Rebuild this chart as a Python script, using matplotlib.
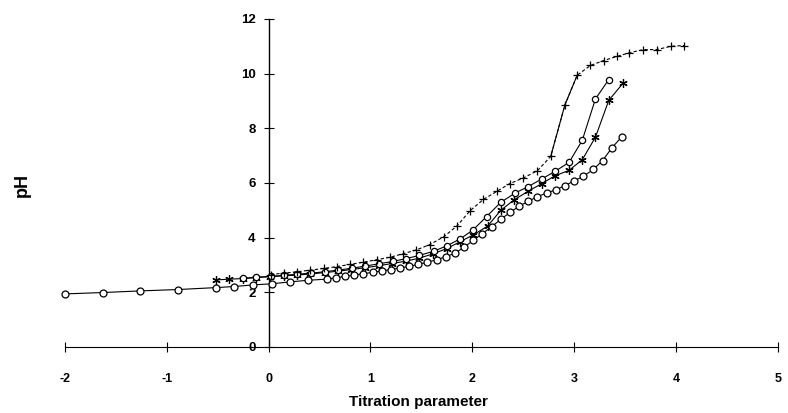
import matplotlib.pyplot as plt

plt.rcParams['font.family'] = ['Liberation Sans', 'DejaVu Sans']
plt.rcParams['axes.unicode_minus'] = False

# open circles, solid line
circ_x = [-2.0, -1.63, -1.26, -0.89, -0.52, -0.34, -0.15, 0.03, 0.21, 0.39, 0.57,
          0.66, 0.75, 0.84, 0.93, 1.02, 1.11, 1.20, 1.29, 1.38, 1.47, 1.56, 1.65,
          1.74, 1.83, 1.92, 2.01, 2.10, 2.19, 2.28, 2.37, 2.46, 2.55, 2.64, 2.73,
          2.82, 2.91, 3.00, 3.09, 3.19, 3.28, 3.37, 3.47]
circ_y = [1.94, 1.99, 2.05, 2.10, 2.17, 2.21, 2.27, 2.31, 2.38, 2.44, 2.48,
          2.53, 2.58, 2.63, 2.68, 2.73, 2.78, 2.83, 2.89, 2.95, 3.02, 3.10, 3.19,
          3.30, 3.43, 3.65, 3.90, 4.15, 4.40, 4.67, 4.92, 5.15, 5.33, 5.50, 5.63,
          5.75, 5.90, 6.08, 6.24, 6.50, 6.82, 7.28, 7.70]

# plus markers, dashed line
plus_x = [0.02, 0.15, 0.28, 0.41, 0.54, 0.67, 0.80, 0.93, 1.06, 1.19, 1.32, 1.45,
          1.58, 1.72, 1.85, 1.98, 2.11, 2.24, 2.37, 2.50, 2.64, 2.77, 2.91, 3.03,
          3.16, 3.29, 3.42, 3.54, 3.68, 3.81, 3.95, 4.08]
plus_y = [2.65, 2.70, 2.75, 2.81, 2.87, 2.94, 3.02, 3.10, 3.19, 3.28, 3.41, 3.55,
          3.74, 4.03, 4.43, 4.99, 5.40, 5.69, 5.98, 6.18, 6.45, 6.97, 8.86, 9.94,
          10.30, 10.48, 10.63, 10.76, 10.88, 10.88, 11.00, 11.03]

# diamond-ish markers, solid line
dia_x = [-0.25, -0.12, 0.02, 0.15, 0.28, 0.42, 0.55, 0.68, 0.82, 0.95, 1.08, 1.22,
         1.35, 1.48, 1.62, 1.75, 1.88, 2.01, 2.14, 2.28, 2.42, 2.55, 2.68, 2.81,
         2.95, 3.08, 3.21, 3.34]
dia_y = [2.51, 2.55, 2.58, 2.62, 2.66, 2.70, 2.75, 2.81, 2.88, 2.96, 3.04, 3.13,
         3.23, 3.35, 3.50, 3.70, 3.95, 4.29, 4.77, 5.29, 5.63, 5.87, 6.14, 6.42,
         6.75, 7.56, 9.08, 9.78]

# asterisk markers, solid line
ast_x = [-0.52, -0.39, -0.25, -0.12, 0.01, 0.15, 0.28, 0.41, 0.55, 0.68, 0.81,
         0.95, 1.08, 1.21, 1.35, 1.48, 1.61, 1.75, 1.88, 2.01, 2.15, 2.28, 2.41,
         2.55, 2.68, 2.81, 2.95, 3.08, 3.21, 3.34, 3.48]
ast_y = [2.45, 2.48, 2.50, 2.54, 2.57, 2.60, 2.63, 2.67, 2.72, 2.77, 2.83,
         2.90, 2.97, 3.05, 3.14, 3.25, 3.40, 3.60, 3.85, 4.10, 4.42, 5.00, 5.38,
         5.70, 5.97, 6.26, 6.46, 6.85, 7.68, 9.02, 9.65]

fig = plt.figure(figsize=(7.88, 4.13), dpi=100)
ax = fig.add_axes([0.0825, 0.160, 0.9045, 0.794])

ax.plot(ast_x, ast_y, color='black', lw=0.8, marker=(6, 2, 0), ms=6,
        mew=0.9, clip_on=False, zorder=3)
ax.plot(dia_x, dia_y, color='black', lw=0.8, marker='o', ms=4.5, mfc='white',
        mew=0.9, clip_on=False, zorder=3)
ax.plot(plus_x, plus_y, color='black', lw=0.8, ls=(0, (3, 2)), marker='+',
        ms=6, mew=0.9, clip_on=False, zorder=3)
# steep part of the plus curve is drawn solid
ax.plot(plus_x[21:24], plus_y[21:24], color='black', lw=0.8, zorder=3)
ax.plot(circ_x, circ_y, color='black', lw=0.8, marker='o', ms=5, mfc='white',
        mew=0.9, clip_on=False, zorder=4)

ax.set_xlim(-2, 5)
ax.set_ylim(0, 12)
ax.spines['left'].set_position(('data', 0))
ax.spines['bottom'].set_position(('data', 0))
ax.spines['top'].set_visible(False)
ax.spines['right'].set_visible(False)
ax.spines['left'].set_linewidth(1.0)
ax.spines['bottom'].set_linewidth(0.8)

ax.set_xticks(range(-2, 6))
ax.set_yticks(range(0, 13, 2))
ax.tick_params(axis='x', direction='inout', length=7, width=0.8, pad=15,
               labelsize=9)
ax.tick_params(axis='y', direction='inout', length=7, width=0.8, pad=6,
               labelsize=9.5)
for lab in ax.get_xticklabels() + ax.get_yticklabels():
    lab.set_fontweight('bold')

fig.text(418 / 788, 1 - 402 / 413, 'Titration parameter', ha='center',
         va='center', fontsize=11, fontweight='bold')
fig.text(22 / 788, 1 - 185 / 413, 'pH', ha='center', va='center',
         rotation=90, fontsize=13, fontweight='bold')

fig.savefig('out.png', dpi=100)
